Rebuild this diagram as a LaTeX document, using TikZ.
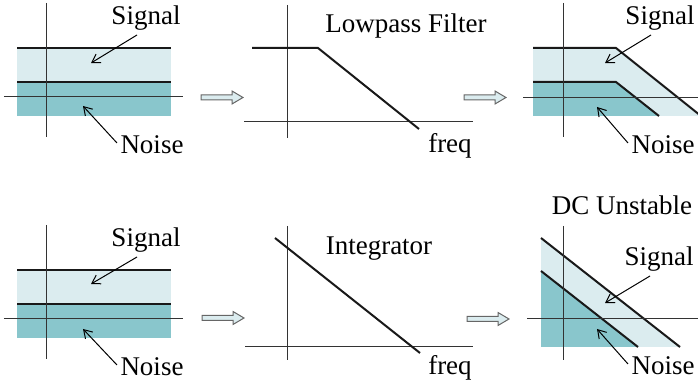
\documentclass[tikz,border=0pt]{standalone}
\usepackage{fontspec}
\setmainfont{Liberation Serif}
\newfontfamily\lblfont{Liberation Serif}
\usetikzlibrary{arrows.meta}
\definecolor{sigfill}{HTML}{DBECEF}
\definecolor{noisefill}{HTML}{89C6CC}

\begin{document}
\begin{tikzpicture}[x=0.5pt,y=-0.5pt,
    axis/.style={black!80,line width=0.5pt},
    curve/.style={black!90,line width=1pt},
    ptr/.style={line width=0.5pt,-{Straight Barb[length=4pt,width=5pt]}},
    lbl/.style={inner sep=0pt,anchor=base,font=\lblfont\fontsize{13.5}{16}\selectfont},
    blockarr/.style={draw=black!60,fill=sigfill,line width=0.5pt}]
  \clip (0,0) rectangle (698,385);

  % input spectrum (both rows)
  \foreach \dy/\r in {0/a,222/b} {
    \fill[sigfill] (17,48+\dy) rectangle (171,82+\dy);
    \fill[noisefill] (17,82+\dy) rectangle (171,116+\dy);
    \draw[curve] (17,48+\dy) -- (171,48+\dy);
    \draw[curve] (17,82+\dy) -- (171,82+\dy);
    \draw[axis] (4,97+\dy) -- (183,97+\dy);
    \draw[axis] (46,3+\dy) -- (46,137+\dy);
  }
  \node[lbl] (siga) at (146,25) {Signal};
  \node[lbl] (noia) at (152,154) {Noise};
  \node[lbl] (sigb) at (146,247) {Signal};
  \node[lbl] (noib) at (152,376) {Noise};
  \coordinate (siga-tip) at (91,63);
  \coordinate (noia-tip) at (83,106);
  \coordinate (sigb-tip) at (91,284);
  \coordinate (noib-tip) at (83,329);

  % lowpass filter
  \draw[axis] (244,122) -- (473,122);
  \draw[axis] (287,5) -- (287,138);
  \draw[curve] (252,48) -- (318,48) -- (419,129);
  \node[lbl] (lpf) at (406,33) {Lowpass Filter};
  \node[lbl] (freqa) at (450,153) {freq};

  % integrator
  \draw[axis] (245,347) -- (473,347);
  \draw[axis] (287,226) -- (287,360);
  \draw[curve] (275,238) -- (420,353);
  \node[lbl] (intg) at (379,255) {Integrator};
  \node[lbl] (freqb) at (450,375) {freq};

  % filtered output
  \fill[sigfill] (533,48) -- (616,48) -- (701,116) -- (533,116) -- cycle;
  \fill[noisefill] (533,82) -- (616,82) -- (659,116) -- (533,116) -- cycle;
  \draw[curve] (533,48) -- (616,48) -- (701,116);
  \draw[curve] (533,82) -- (616,82) -- (659,116);
  \draw[axis] (523,98) -- (698,98);
  \draw[axis] (563,3) -- (563,137);
  \node[lbl] (sigc) at (660,25) {Signal};
  \node[lbl] (noic) at (663,154) {Noise};
  \coordinate (sigc-tip) at (605,63);
  \coordinate (noic-tip) at (597,107);

  % integrated output
  \fill[sigfill] (541,238) -- (680,347) -- (541,347) -- cycle;
  \fill[noisefill] (541,271) -- (638,347) -- (541,347) -- cycle;
  \draw[curve] (541,238) -- (680,347);
  \draw[curve] (541,271) -- (638,347);
  \draw[axis] (527,319) -- (698,319);
  \draw[axis] (563,226) -- (563,360);
  \node[lbl] (dcu) at (622,215) {DC Unstable};
  \node[lbl] (sigd) at (659,266) {Signal};
  \node[lbl] (noid) at (663,375) {Noise};
  \coordinate (sigd-tip) at (605,303);
  \coordinate (noid-tip) at (597,329);

  % pointers
  \foreach \n in {siga,sigb,sigc,sigd}
    \draw[ptr] ([shift={(-9,10)}]\n.base) -- (\n-tip);
  \foreach \n in {noia,noib,noic,noid}
    \draw[ptr] ([shift={(-35,-11)}]\n.base) -- (\n-tip);

  % block arrows
  \foreach \x/\y in {201/97.5,464/97.5,202/318,467/319}
    \draw[blockarr] (\x,\y-2.5) -- ++(31,0) -- ++(0,-4) -- ++(11,6.5)
      -- ++(-11,6.5) -- ++(0,-4) -- ++(-31,0) -- cycle;
\end{tikzpicture}
\end{document}
